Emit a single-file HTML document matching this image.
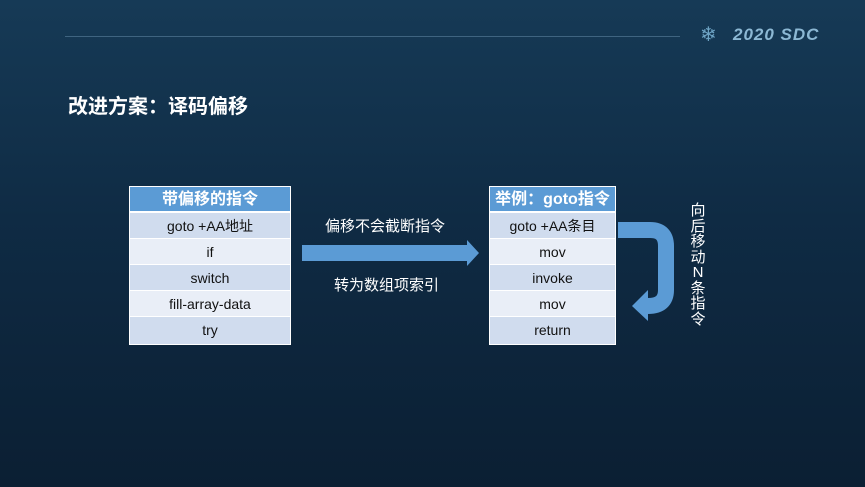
<!DOCTYPE html>
<html><head><meta charset="utf-8"><style>
body{margin:0;width:865px;height:487px;overflow:hidden;background:linear-gradient(180deg,#163a56 0%,#0f2b44 45%,#0b1f33 100%);font-family:"Liberation Sans","Noto Sans CJK SC",sans-serif;position:relative}
.t{position:absolute;border-collapse:collapse;background:#fff}
.tb{position:absolute;border:1px solid #fff;box-sizing:border-box}
.tb div{height:26px;line-height:26px;text-align:center;font-size:14px;color:#111;border-top:1px solid #fff;box-sizing:border-box}
.tb .h{background:#5b9bd5;color:#fff;font-weight:bold;font-size:16px;border-top:none;height:25px;line-height:25px;border-bottom:1px solid #fff}
.a{background:#d0dcee}.b{background:#e9eef7}
.w{position:absolute;color:#fff;font-size:15px}
</style></head><body>
<div style="position:absolute;left:65px;top:36px;width:615px;height:1px;background:#3f6480"></div>
<div style="position:absolute;left:700px;top:22px;color:#6fa5c6;font-size:20px">❄</div>
<div style="position:absolute;left:733px;top:25px;color:#8cb8d4;font-size:17px;font-weight:bold;font-style:italic;letter-spacing:1px">2020 SDC</div>
<div style="position:absolute;left:68px;top:90px;color:#fff;font-size:20px;font-weight:bold">改进方案：译码偏移</div>
<div class="tb" style="left:129px;top:186px;width:162px">
<div class="h">带偏移的指令</div><div class="a">goto +AA地址</div><div class="b">if</div><div class="a">switch</div><div class="b">fill-array-data</div><div class="a" style="height:28px">try</div></div>
<div class="tb" style="left:489px;top:186px;width:127px">
<div class="h">举例：goto指令</div><div class="a">goto +AA条目</div><div class="b">mov</div><div class="a">invoke</div><div class="b">mov</div><div class="a" style="height:28px">return</div></div>
<div class="w" style="left:325px;top:215px">偏移不会截断指令</div>
<div class="w" style="left:334px;top:274px">转为数组项索引</div>
<svg style="position:absolute;left:0;top:0" width="865" height="487">
<polygon points="302,245 467,245 467,240 479,253 467,266 467,261 302,261" fill="#5b9bd5"/>
<path d="M618,230 H650 Q666,230 666,246 V290 Q666,306 648,306" fill="none" stroke="#5b9bd5" stroke-width="16"/>
<polygon points="632,306 648,290 648,321" fill="#5b9bd5"/>
</svg>
<div style="position:absolute;left:689px;top:203px;width:18px;color:#fff;font-size:15px;line-height:15.5px;text-align:center">向<br>后<br>移<br>动<br>N<br>条<br>指<br>令</div>
</body></html>
